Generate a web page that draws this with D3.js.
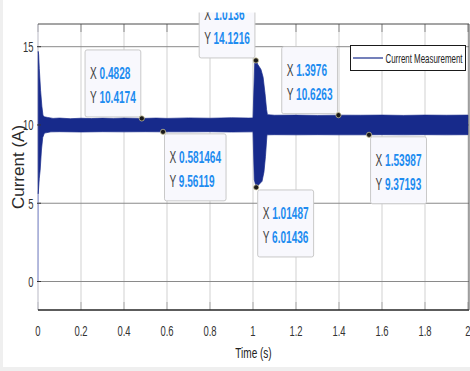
<!DOCTYPE html>
<html><head><meta charset="utf-8">
<script src="https://cdn.jsdelivr.net/npm/d3@7"></script>
<style>
html,body{margin:0;padding:0;background:#efefef;}
svg{display:block;}
text{font-family:"Liberation Sans",Arial,sans-serif;}
</style></head>
<body>
<svg id="c" width="470" height="371"></svg>
<script>
// ---- data ----
const xTicks = [0,0.2,0.4,0.6,0.8,1,1.2,1.4,1.6,1.8,2];
const yTicks = [0,5,10,15];
const xLabel = "Time (s)";
const yLabel = "Current (A)";
const seriesName = "Current Measurement";
// upper envelope of the measured current [time, value]
const upperEnv = [[0.001,14.7],[0.003,14.5],[0.006,13.6],[0.012,12.2],[0.018,11.2],[0.0233,10.6],[0.03,10.52],[0.045,10.48],[0.07,10.42],[0.1,10.44],[0.15,10.4],[0.2,10.43],[0.25,10.41],[0.3,10.44],[0.35,10.42],[0.4,10.45],[0.4828,10.4174],[0.55,10.44],[0.6,10.42],[0.7,10.45],[0.8,10.43],[0.9,10.46],[0.98,10.44],[1.0,10.45],[1.008,14.0],[1.0136,14.1216],[1.023,13.85],[1.037,13.55],[1.047,13.05],[1.056,12.0],[1.063,11.0],[1.067,10.66],[1.1,10.62],[1.2,10.63],[1.3,10.61],[1.3976,10.6263],[1.5,10.62],[1.6,10.63],[1.7,10.61],[1.8,10.63],[1.9,10.62],[2.0,10.63]];
// lower envelope [time, value]
const lowerEnv = [[0.001,5.6],[0.006,6.6],[0.01,7.1],[0.016,8.4],[0.022,9.2],[0.03,9.48],[0.06,9.56],[0.1,9.57],[0.2,9.55],[0.3,9.57],[0.4,9.56],[0.5,9.57],[0.581464,9.56119],[0.7,9.56],[0.8,9.57],[0.9,9.55],[1.0,9.56],[1.006,6.5],[1.01487,6.01436],[1.028,6.2],[1.042,6.4],[1.051,7.0],[1.058,8.0],[1.065,9.37],[1.1,9.38],[1.2,9.37],[1.3,9.38],[1.4,9.37],[1.53987,9.37193],[1.6,9.38],[1.7,9.37],[1.8,9.38],[1.9,9.37],[2.0,9.38]];
// initial rise from zero at switch-on [time, value]
const startRise = [[0,0],[0.001,5.6]];
// data tips
const tipX = [0.4828, 1.0136, 1.3976, 0.581464, 1.01487, 1.53987];
const tipY = [10.4174, 14.1216, 10.6263, 9.56119, 6.01436, 9.37193];
const tipXText = ["0.4828","1.0136","1.3976","0.581464","1.01487","1.53987"];
const tipYText = ["10.4174","14.1216","10.6263","9.56119","6.01436","9.37193"];
// tip box placement (layout: 'L' = box left of marker, 'R' = right; vertical offset)
const tipPlace = [["L",-68.5],["L",-69.5],["L",-68.5],["R",2],["R",2.6],["R",2]];

// ---- drawing ----
const svg = d3.select("#c");
const W = 470, H = 371;
const L = 38, R = 468, T = 24, B = 310;
const x = d3.scaleLinear().domain([0,2]).range([L,R]);
const y = d3.scaleLinear().domain([-1.82,16.45]).range([B,T]);
const SX = 0.63;

svg.append("rect").attr("x",3).attr("y",0).attr("width",W-3).attr("height",367).attr("fill","#fff");

// grid
svg.append("g").selectAll("line").data(xTicks).join("line")
  .attr("x1",d=>x(d)).attr("x2",d=>x(d)).attr("y1",T).attr("y2",B)
  .attr("stroke","#dcdcdc").attr("stroke-width",1.3);
svg.append("g").selectAll("line").data(yTicks).join("line")
  .attr("x1",L).attr("x2",R+1).attr("y1",d=>y(d)).attr("y2",d=>y(d))
  .attr("stroke","#8a8a8a").attr("stroke-width",1);

// inward tick marks
svg.append("g").selectAll("line").data(xTicks).join("line")
  .attr("x1",d=>x(d)).attr("x2",d=>x(d)).attr("y1",B-8).attr("y2",B)
  .attr("stroke","#b5b5b5").attr("stroke-width",1.2);
svg.append("g").selectAll("line").data(xTicks).join("line")
  .attr("x1",d=>x(d)).attr("x2",d=>x(d)).attr("y1",T).attr("y2",T+8)
  .attr("stroke","#9a9a9a").attr("stroke-width",1.2);

// frame left (under signal)
svg.append("line").attr("x1",L).attr("x2",L).attr("y1",T).attr("y2",B).attr("stroke","#d0d0dc").attr("stroke-width",1);

// signal band
const line = d3.line().x(d=>x(d[0])).y(d=>y(d[1]));
svg.append("path").attr("d",line(startRise))
  .attr("fill","none").attr("stroke","#8c98d8").attr("stroke-width",1);
const pts = upperEnv.concat(lowerEnv.slice().reverse());
svg.append("path").attr("d",line(pts)+"Z")
  .attr("fill","#172a8b").attr("stroke","#172a8b").attr("stroke-width",0.7)
  .attr("stroke-linejoin","round");

// frame
svg.append("line").attr("x1",L).attr("x2",R+1).attr("y1",T).attr("y2",T).attr("stroke","#4a4a4a").attr("stroke-width",1);
svg.append("line").attr("x1",L).attr("x2",R+1).attr("y1",B).attr("y2",B).attr("stroke","#262626").attr("stroke-width",1.3);
svg.append("line").attr("x1",R+1).attr("x2",R+1).attr("y1",T).attr("y2",B).attr("stroke","#555").attr("stroke-width",1);
// y tick dashes
svg.append("g").selectAll("line").data(yTicks).join("line")
  .attr("x1",L-1).attr("x2",L+3).attr("y1",d=>y(d)).attr("y2",d=>y(d))
  .attr("stroke","#333");

// tick labels
function stext(g, tx, ty, str, size, anchor, sx, fill, weight){
  const gg = g.append("g").attr("transform",`translate(${tx},${ty}) scale(${sx},1)`);
  return gg.append("text").attr("text-anchor",anchor).attr("font-size",size)
    .attr("fill",fill||"#262626").attr("font-weight",weight||"normal").text(str);
}
const lab = svg.append("g");
xTicks.forEach(t=>stext(lab, x(t), 335.5, d3.format("")(t), 15, "middle", SX, "#333"));
yTicks.forEach(t=>stext(lab, 33.5, y(t)+5.3, String(t), 15, "end", SX, "#333"));
stext(lab, 253.5, 357.5, xLabel, 15, "middle", 0.67, "#222");
svg.append("text").attr("transform","translate(24,167) rotate(-90)")
  .attr("text-anchor","middle").attr("font-size",17).attr("fill","#2a2a2a").text(yLabel);

// data tips
const tips = svg.append("g");
tipX.forEach((tx,i)=>{
  const mx = x(tx), my = y(tipY[i]);
  const g = tips.append("g");
  const rect = g.append("rect").attr("rx",2).attr("fill","#f8f8fd").attr("stroke","#c9c9c9").attr("stroke-width",1);
  const tg = g.append("g");
  const lines = [["X",tipXText[i]],["Y",tipYText[i]]];
  let maxW = 0;
  lines.forEach((ln,j)=>{
    const t = tg.append("g").attr("transform",`translate(0,${j===0?29:53}) scale(${SX},1)`)
      .append("text").attr("font-size",16);
    t.append("tspan").attr("fill","#404040").text(ln[0]+" ");
    t.append("tspan").attr("fill","#1e8cf0").attr("font-weight","bold").text(ln[1]);
    maxW = Math.max(maxW, t.node().getComputedTextLength()*SX);
  });
  const bw = maxW + 10, bh = 67;
  const place = tipPlace[i];
  const bx = place[0]==="L" ? mx - 1 - bw : mx + 1.5;
  const by = my + place[1];
  rect.attr("x",bx).attr("y",by).attr("width",bw).attr("height",bh);
  tg.attr("transform",`translate(${bx+5},${by})`);
  g.append("circle").attr("cx",mx).attr("cy",my).attr("r",2.6)
    .attr("fill","#1a1a1a").attr("stroke","#d8d0a0").attr("stroke-width",0.7);
});

// top band of the figure above the axes (clips the highest tip)
svg.append("rect").attr("x",3).attr("y",0).attr("width",W-3).attr("height",12.5).attr("fill","#fff");

// legend
const lg = svg.append("g");
lg.append("rect").attr("x",350.5).attr("y",45.5).attr("width",115).attr("height",25)
  .attr("fill","#fff").attr("stroke","#1a1a1a").attr("stroke-width",1);
lg.append("line").attr("x1",353).attr("x2",383).attr("y1",58).attr("y2",58)
  .attr("stroke","#172a8b").attr("stroke-width",1.2);
stext(lg, 385.5, 62.8, seriesName, 13, "start", 0.61, "#222");
</script>
</body></html>
